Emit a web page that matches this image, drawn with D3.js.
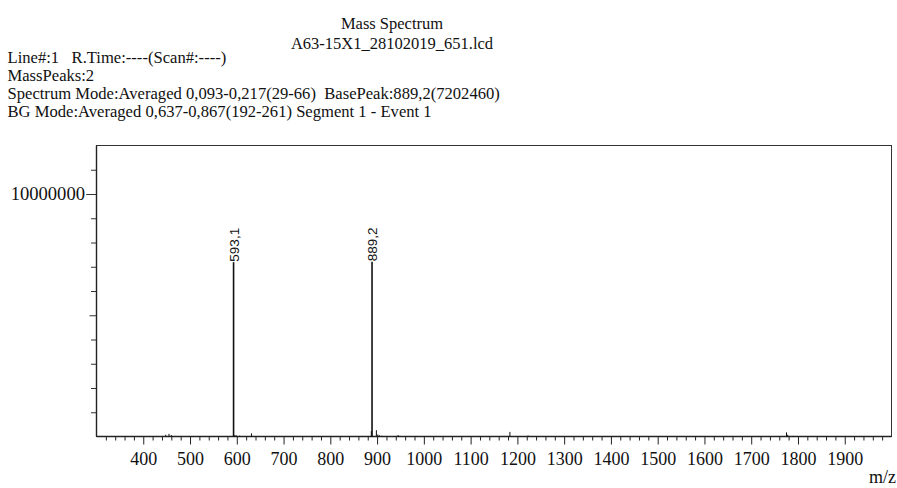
<!DOCTYPE html>
<html>
<head>
<meta charset="utf-8">
<script src="https://cdn.jsdelivr.net/npm/d3@7"></script>
<style>
  html, body { margin: 0; padding: 0; background: #fff; }
  svg { display: block; }
</style>
</head>
<body>
<svg id="chart" width="897" height="488"></svg>
<script>
// ---- data ----
const titleLines = ["Mass Spectrum", "A63-15X1_28102019_651.lcd"];
const headerLines = [
  "Line#:1\u00a0\u00a0\u00a0R.Time:----(Scan#:----)",
  "MassPeaks:2",
  "Spectrum Mode:Averaged 0,093-0,217(29-66)\u00a0\u00a0BasePeak:889,2(7202460)",
  "BG Mode:Averaged 0,637-0,867(192-261) Segment 1 - Event 1"
];
const peakMz = [448, 455, 460, 593.1, 596, 599, 606, 631.5, 887.6, 889.2, 898.5, 901.5, 905, 910, 945, 1184, 1223, 1775.5, 1778, 1790];
const peakIntensity = [70000, 110000, 60000, 7190000, 60000, 45000, 30000, 130000, 220000, 7202460, 260000, 80000, 50000, 30000, 60000, 190000, 40000, 170000, 70000, 25000];
const labeledMz = [593.1, 889.2];
const labeledText = ["593,1", "889,2"];
const xMajorTicks = [400, 500, 600, 700, 800, 900, 1000, 1100, 1200, 1300, 1400, 1500, 1600, 1700, 1800, 1900];
const yTicks = [1000000, 2000000, 3000000, 4000000, 5000000, 6000000, 7000000, 8000000, 9000000, 10000000, 11000000];
const yLabelTicks = [10000000];
const xDomain = [300, 2000];
const yDomain = [0, 12000000];

// ---- layout ----
const L = 96.5, R = 891.5, T = 145.5, B = 436.5;
const svg = d3.select("#chart");
const serif = "'Liberation Serif', 'Times New Roman', serif";

const x = d3.scaleLinear().domain(xDomain).range([L, R]);
const y = d3.scaleLinear().domain(yDomain).range([B, T]);

// header
svg.append("g").selectAll("text").data(titleLines).join("text")
  .attr("x", 392).attr("y", (d, i) => 28.5 + i * 20.5)
  .attr("text-anchor", "middle")
  .style("font-family", serif).style("font-size", "16.5px").attr("fill", "#111")
  .text(d => d);
svg.append("g").selectAll("text").data(headerLines).join("text")
  .attr("x", 7.5).attr("y", (d, i) => 62.5 + i * 18.3)
  .style("font-family", serif).style("font-size", "16.6px").attr("fill", "#111")
  .text(d => d);

// x axis minor ticks
const minorX = d3.range(320, 2000, 20).filter(v => v % 100 !== 0);
svg.append("g").attr("transform", `translate(0,${B})`)
  .call(d3.axisBottom(x).tickValues(minorX).tickSize(4).tickFormat(""))
  .call(g => g.select(".domain").remove())
  .call(g => g.selectAll("line").attr("stroke", "#222"));
// x axis major ticks
svg.append("g").attr("transform", `translate(0,${B})`)
  .call(d3.axisBottom(x).tickValues(xMajorTicks).tickSize(8).tickPadding(7.5).tickFormat(d3.format("d")))
  .call(g => g.select(".domain").remove())
  .call(g => g.selectAll("line").attr("stroke", "#222"))
  .call(g => g.selectAll("text").style("font-family", serif).style("font-size", "18px").attr("fill", "#111"));

// y axis ticks
svg.append("g").attr("transform", `translate(${L},0)`)
  .call(d3.axisLeft(y).tickValues(yTicks).tickSize(5.5).tickFormat(""))
  .call(g => g.select(".domain").remove())
  .call(g => g.selectAll("line").attr("stroke", "#333")
    .attr("x2", d => d === 10000000 ? -10 : (d === 5000000 ? -7 : -5.5)));
svg.append("g").attr("transform", `translate(${L},0)`)
  .call(d3.axisLeft(y).tickValues(yLabelTicks).tickSize(10).tickPadding(1.5).tickFormat(d3.format("d")))
  .call(g => g.select(".domain").remove())
  .call(g => g.selectAll("line").attr("stroke", "#333"))
  .call(g => g.selectAll("text").style("font-family", serif).style("font-size", "18.6px").attr("fill", "#111"));

// frame
svg.append("rect").attr("x", L).attr("y", T).attr("width", R - L).attr("height", B - T)
  .attr("fill", "none").attr("stroke", "#333").attr("stroke-width", 1);
svg.append("line").attr("x1", L).attr("x2", L).attr("y1", T).attr("y2", B)
  .attr("stroke", "#222").attr("stroke-width", 1.4);
svg.append("line").attr("x1", L).attr("x2", R).attr("y1", B).attr("y2", B)
  .attr("stroke", "#222").attr("stroke-width", 1.4);

// peaks
const peaks = peakMz.map((m, i) => ({ mz: m, v: peakIntensity[i] }));
svg.append("g").selectAll("line").data(peaks).join("line")
  .attr("x1", d => x(d.mz)).attr("x2", d => x(d.mz))
  .attr("y1", B).attr("y2", d => y(d.v))
  .attr("stroke", "#111")
  .attr("stroke-width", d => d.v > 1000000 ? 1.6 : 1);

// peak labels
svg.append("g").selectAll("text").data(labeledMz).join("text")
  .attr("transform", (d, i) => {
    const v = peakIntensity[peakMz.indexOf(d)];
    return `translate(${x(d) + 0.5},${y(v) - 0.5}) rotate(-90)`;
  })
  .attr("dy", "0.35em")
  .style("font-family", "'Liberation Sans', Arial, sans-serif").style("font-size", "13.5px").attr("fill", "#111")
  .text((d, i) => labeledText[i]);

// m/z label
svg.append("text").attr("x", 896).attr("y", 483).attr("text-anchor", "end")
  .style("font-family", serif).style("font-size", "18px").attr("fill", "#111")
  .text("m/z");
</script>
</body>
</html>
